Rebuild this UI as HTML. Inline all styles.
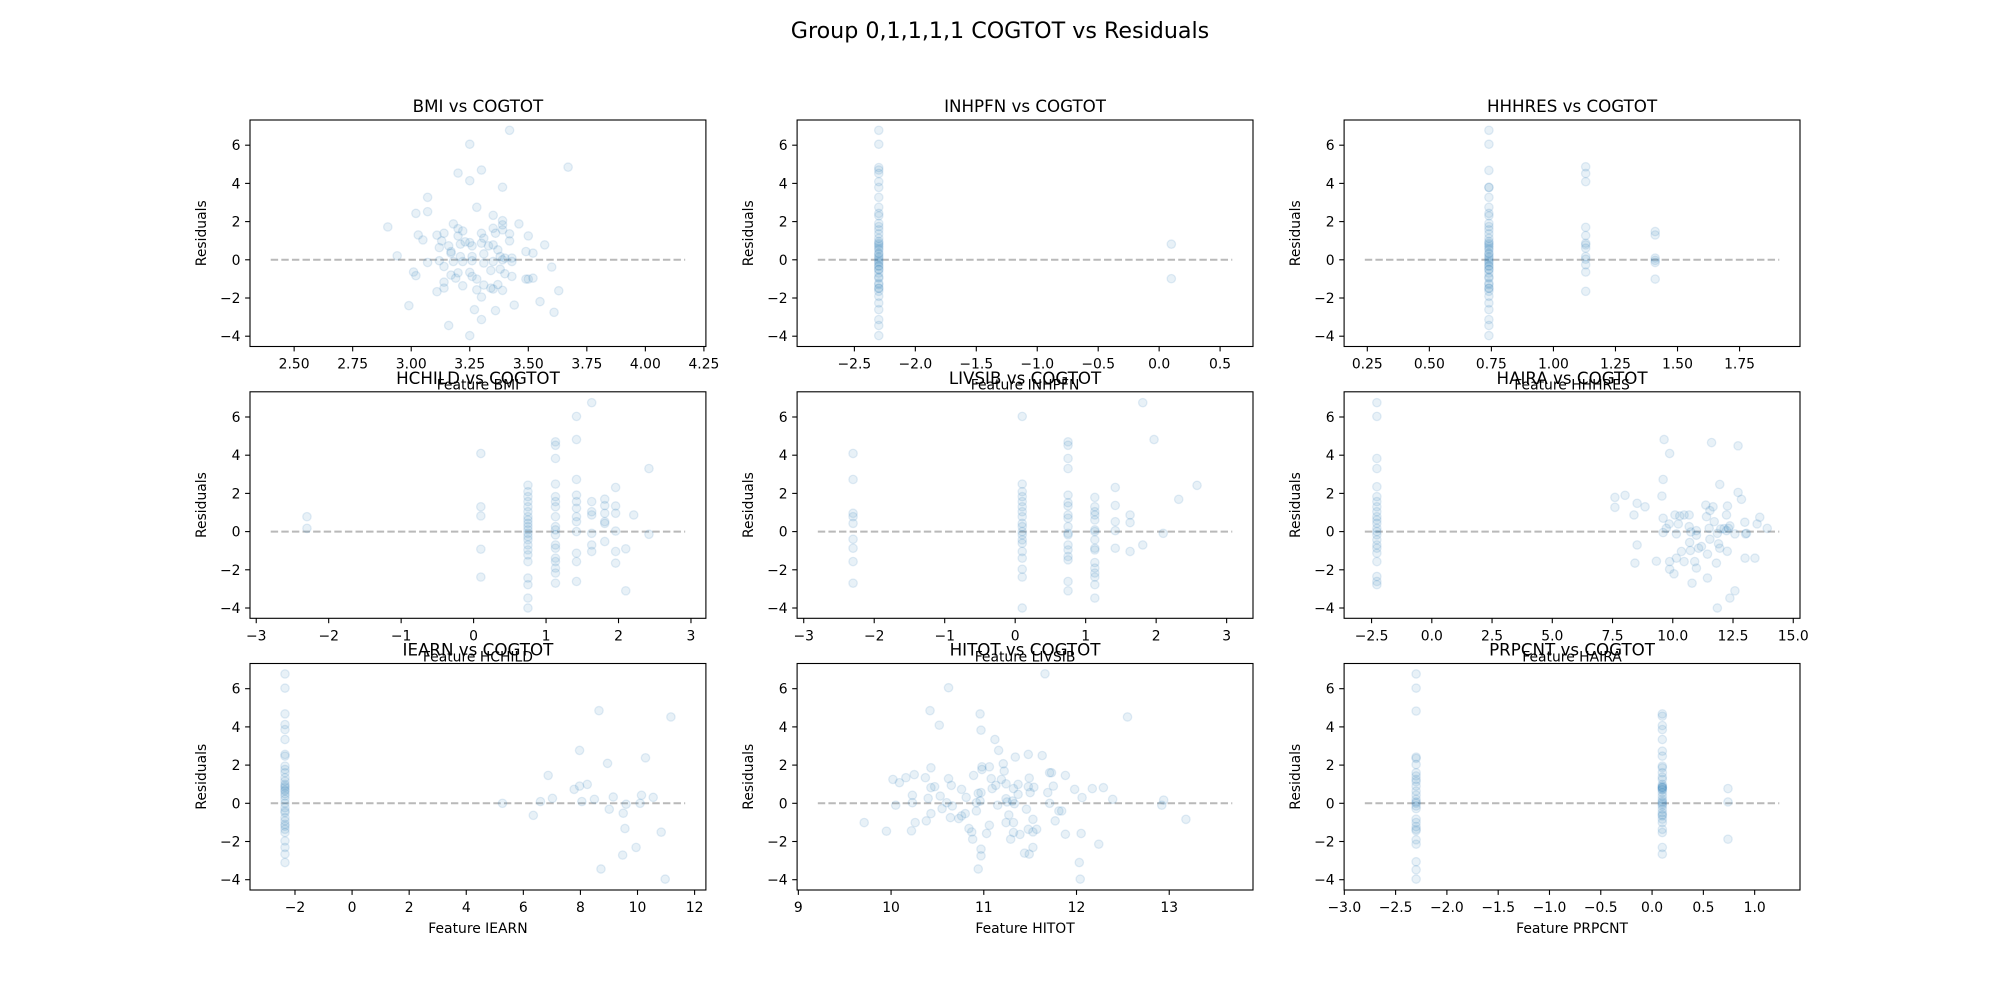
<!DOCTYPE html>
<html><head><meta charset="utf-8"><style>
html,body{margin:0;padding:0;background:#fff;}
svg{display:block;font-family:"DejaVu Sans","Liberation Sans",sans-serif;}
</style></head><body>
<svg id="fig" width="2000" height="1000" viewBox="0 0 2000 1000" xmlns="http://www.w3.org/2000/svg">
<rect width="2000" height="1000" fill="#fff"/>
<text x="1000" y="38" text-anchor="middle" font-size="22.2">Group 0,1,1,1,1 COGTOT vs Residuals</text>
</svg>
<script>
// ---- data ----
const features = ["BMI","INHPFN","HHHRES","HCHILD","LIVSIB","HAIRA","IEARN","HITOT","PRPCNT"];
const yTicks = [-4,-2,0,2,4,6];
const xTickValues = [
 [2.5,2.75,3,3.25,3.5,3.75,4,4.25],
 [-2.5,-2,-1.5,-1,-0.5,0,0.5],
 [0.25,0.5,0.75,1,1.25,1.5,1.75],
 [-3,-2,-1,0,1,2,3],
 [-3,-2,-1,0,1,2,3],
 [-2.5,0,2.5,5,7.5,10,12.5,15],
 [-2,0,2,4,6,8,10,12],
 [9,10,11,12,13],
 [-3,-2.5,-2,-1.5,-1,-0.5,0,0.5,1]
];
const xTickLabels = [
 ["2.50","2.75","3.00","3.25","3.50","3.75","4.00","4.25"],
 ["−2.5","−2.0","−1.5","−1.0","−0.5","0.0","0.5"],
 ["0.25","0.50","0.75","1.00","1.25","1.50","1.75"],
 ["−3","−2","−1","0","1","2","3"],
 ["−3","−2","−1","0","1","2","3"],
 ["−2.5","0.0","2.5","5.0","7.5","10.0","12.5","15.0"],
 ["−2","0","2","4","6","8","10","12"],
 ["9","10","11","12","13"],
 ["−3.0","−2.5","−2.0","−1.5","−1.0","−0.5","0.0","0.5","1.0"]
];
const yTickLabels = ["−4","−2","0","2","4","6"];

const p1x = [3.42,3.25,3.20,3.30,3.67,3.25,3.39,3.07,3.02,3.07,3.28,3.35,2.90,2.94,3.03,3.11,3.14,3.13,3.18,3.20,3.22,3.20,3.16,3.17,3.21,3.23,3.25,3.26,3.30,3.30,3.31,3.33,3.35,3.35,3.36,3.37,3.39,3.39,3.39,3.42,3.42,3.46,3.50,3.49,3.52,3.57,3.12,3.17,3.21,3.26,3.31,3.38,3.40,3.43,3.07,3.12,3.14,3.18,3.22,3.26,3.31,3.35,3.39,3.43,3.60,3.01,3.02,3.17,3.20,3.19,3.22,3.25,3.26,3.28,3.31,3.34,3.38,3.40,3.43,3.49,3.50,3.52,3.11,3.14,3.14,3.28,3.30,3.34,3.35,3.37,3.39,3.63,2.99,3.16,3.27,3.30,3.36,3.44,3.55,3.61,3.25,3.05];
const p1y = [6.78,6.05,4.54,4.70,4.85,4.14,3.80,3.27,2.43,2.52,2.75,2.33,1.72,0.21,1.30,1.29,1.39,0.99,1.88,1.63,1.51,1.25,0.73,0.43,0.82,0.94,0.90,0.73,0.87,1.39,1.13,0.73,0.78,1.65,1.39,0.52,2.05,1.83,1.57,1.36,0.99,1.88,1.25,0.43,0.35,0.78,0.64,0.35,0.17,0.17,0.31,0.17,0.09,0.09,-0.14,-0.05,-0.35,-0.09,-0.09,-0.05,-0.17,-0.09,0.00,-0.09,-0.38,-0.64,-0.83,-0.80,-0.68,-0.96,-1.36,-0.66,-0.87,-1.01,-1.32,-0.56,-0.49,-0.73,-0.87,-1.01,-1.01,-0.96,-1.67,-1.48,-1.17,-1.57,-1.95,-1.48,-1.53,-1.30,-1.60,-1.62,-2.40,-3.44,-2.61,-3.13,-2.66,-2.37,-2.19,-2.75,-3.97,1.04];

const p2x = [-2.3,-2.3,-2.3,-2.3,-2.3,-2.3,-2.3,-2.3,-2.3,-2.3,-2.3,-2.3,-2.3,-2.3,-2.3,-2.3,-2.3,-2.3,-2.3,-2.3,-2.3,-2.3,-2.3,-2.3,-2.3,-2.3,-2.3,-2.3,-2.3,-2.3,-2.3,-2.3,-2.3,-2.3,-2.3,-2.3,-2.3,-2.3,-2.3,-2.3,-2.3,-2.3,-2.3,-2.3,-2.3,-2.3,-2.3,0.1,0.1];
const p2y = [6.78,6.05,4.83,4.70,4.52,4.09,3.79,3.27,2.75,2.43,2.30,1.91,1.74,1.57,1.36,1.13,0.96,0.87,0.70,0.52,0.35,0.17,0,-0.17,-0.35,-0.52,-0.70,-0.96,-1.22,-1.48,-1.65,-1.91,-2.26,-2.61,-3.13,-3.44,-3.97,0.8,0.6,0.3,0.1,-0.1,-0.3,-0.5,-0.9,-1.3,-1.5,0.82,-0.99];

const p3x = [0.74,0.74,0.74,0.74,0.74,0.74,0.74,0.74,0.74,0.74,0.74,0.74,0.74,0.74,0.74,0.74,0.74,0.74,0.74,0.74,0.74,0.74,0.74,0.74,0.74,0.74,0.74,0.74,0.74,0.74,0.74,0.74,0.74,0.74,0.74,0.74,0.74,0.74,0.74,0.74,0.74,0.74,0.74,0.74,0.74,1.13,1.13,1.13,1.13,1.13,1.13,1.13,1.13,1.13,1.13,1.13,1.13,1.13,1.41,1.41,1.41,1.41,1.41,1.41];
const p3y = [6.78,6.05,4.68,3.79,3.79,3.27,2.75,2.43,2.30,1.91,1.74,1.57,1.36,1.13,0.96,0.87,0.70,0.52,0.35,0.17,0,-0.17,-0.35,-0.52,-0.70,-0.96,-1.22,-1.48,-1.65,-1.91,-2.26,-2.61,-3.13,-3.44,-3.97,0.8,0.6,0.3,0.1,-0.1,-0.3,-0.5,-0.9,-1.3,-1.5,4.87,4.52,4.09,1.70,1.27,0.87,0.78,0.61,0.17,0.03,-0.26,-0.64,-1.65,1.48,1.30,0.09,-0.03,-0.14,-1.01];

const p4x = [-2.3,-2.3,0.1,0.1,0.1,0.1,0.1,0.75,0.75,0.75,0.75,0.75,0.75,0.75,0.75,0.75,0.75,0.75,0.75,0.75,0.75,0.75,0.75,0.75,0.75,0.75,0.75,0.75,0.75,1.13,1.13,1.13,1.13,1.13,1.13,1.13,1.13,1.13,1.13,1.13,1.13,1.13,1.13,1.13,1.13,1.13,1.13,1.42,1.42,1.42,1.42,1.42,1.42,1.42,1.42,1.42,1.42,1.42,1.42,1.63,1.63,1.63,1.63,1.63,1.63,1.63,1.81,1.81,1.81,1.81,1.81,1.81,1.96,1.96,1.96,1.96,1.96,1.96,2.10,2.10,2.21,2.42,2.42];
const p4y = [0.78,0.17,4.09,1.30,0.82,-0.92,-2.38,2.43,2.09,1.83,1.57,1.30,1.04,0.78,0.61,0.43,0.26,0.09,-0.09,-0.26,-0.43,-0.70,-0.96,-1.22,-1.57,-2.43,-2.78,-3.48,-4.0,4.70,4.52,3.83,2.49,1.83,1.57,1.30,0.78,0.26,0.09,-0.17,-0.70,-0.87,-1.39,-1.57,-1.91,-2.17,-2.70,6.03,4.82,2.73,1.91,1.57,1.22,0.78,0.52,0,-1.13,-1.57,-2.61,6.75,1.57,1.04,0.87,-0.09,-0.70,-1.04,1.70,1.36,0.96,0.52,0.43,-0.52,2.31,1.34,0.96,0.03,-1.04,-1.65,-0.90,-3.10,0.87,3.30,-0.14];

const p5x = [-2.3,-2.3,-2.3,-2.3,-2.3,-2.3,-2.3,-2.3,-2.3,0.1,0.1,0.1,0.1,0.1,0.1,0.1,0.1,0.1,0.1,0.1,0.1,0.1,0.1,0.1,0.1,0.1,0.1,0.1,0.75,0.75,0.75,0.75,0.75,0.75,0.75,0.75,0.75,0.75,0.75,0.75,0.75,0.75,0.75,0.75,0.75,0.75,1.13,1.13,1.13,1.13,1.13,1.13,1.13,1.13,1.13,1.13,1.13,1.13,1.13,1.13,1.13,1.13,1.42,1.42,1.42,1.42,1.42,1.63,1.63,1.63,1.81,1.81,1.97,2.10,2.32,2.58];
const p5y = [4.09,2.73,0.96,0.78,0.43,-0.40,-0.87,-1.57,-2.70,6.03,2.49,2.09,1.83,1.57,1.30,1.04,0.78,0.43,0.26,0,-0.17,-0.43,-0.61,-1.04,-1.39,-1.97,-2.38,-4.0,4.70,4.52,3.83,3.30,1.91,1.51,1.34,0.87,0.70,0.26,-0.09,-0.17,-0.70,-0.96,-1.30,-1.48,-2.61,-3.10,1.79,1.30,1.04,0.87,0.61,0.09,0,-0.43,-0.87,-0.96,-1.62,-1.91,-2.17,-2.38,-2.78,-3.48,2.31,1.37,0.52,0.05,-0.87,0.87,0.47,-1.04,6.75,-0.70,4.82,-0.09,1.69,2.42];

const p6x = [-2.28,-2.28,-2.28,-2.28,-2.28,-2.28,-2.28,-2.28,-2.28,-2.28,-2.28,-2.28,-2.28,-2.28,-2.28,-2.28,-2.28,-2.28,-2.28,-2.28,-2.28,-2.28,-2.28,7.60,7.60,8.02,8.52,8.85,8.39,8.52,8.43,9.32,9.55,9.60,9.64,9.87,9.60,9.60,9.73,9.85,9.87,9.87,10.05,10.09,10.15,10.15,10.23,10.29,10.36,10.47,10.47,10.68,10.68,10.70,10.75,10.80,10.73,10.91,10.98,10.98,10.98,11.07,11.19,11.37,11.40,11.44,11.44,11.51,11.54,11.54,11.61,11.67,11.72,11.81,11.85,11.90,11.95,11.95,11.99,12.13,12.23,12.23,12.26,12.27,12.31,12.37,12.71,12.71,12.58,12.58,12.37,12.85,12.99,13.00,13.02,13.06,13.41,13.50,13.61,13.92,11.85];
const p6y = [6.75,6.03,3.83,3.30,2.35,1.83,1.57,1.30,1.04,0.78,0.61,0.43,0.17,0,-0.17,-0.43,-0.70,-0.87,-1.13,-1.57,-2.35,-2.61,-2.78,1.79,1.27,1.90,1.48,1.30,0.87,-0.70,-1.65,-1.55,1.86,2.73,4.82,4.09,0.70,-0.05,0.17,0.40,-1.57,-1.97,-2.21,0.87,-0.12,-1.39,0.40,0.82,-1.04,0.87,-1.57,0.87,0.26,-0.57,-0.02,-2.70,-0.99,-1.57,0.05,-0.19,-1.91,-0.87,-0.78,1.39,0.78,-1.18,-2.43,0.17,1.10,-0.40,4.66,1.30,0.52,-1.65,-0.09,-0.64,2.47,-0.87,0.14,0.16,0.05,0.87,-1.03,1.34,0.17,0.30,4.49,2.05,-0.12,-3.10,-3.48,1.69,0.49,-1.39,-0.12,-0.09,-1.39,0.40,0.75,0.17,-4.0];

const p7x = [-2.35,-2.35,-2.35,-2.35,-2.35,-2.35,-2.35,-2.35,-2.35,-2.35,-2.35,-2.35,-2.35,-2.35,-2.35,-2.35,-2.35,-2.35,-2.35,-2.35,-2.35,-2.35,-2.35,-2.35,-2.35,-2.35,-2.35,-2.35,-2.35,-2.35,-2.35,-2.35,-2.35,-2.35,-2.35,5.27,6.35,6.60,6.87,7.02,7.78,7.97,7.97,8.05,8.24,8.49,8.65,8.72,8.95,9.01,9.15,9.48,9.50,9.56,9.60,9.95,10.09,10.14,10.28,10.55,10.83,10.97,11.17];
const p7y = [6.77,6.03,4.68,4.12,3.86,3.34,2.56,2.47,1.95,1.77,1.60,1.34,1.16,0.99,0.82,0.64,0.38,0.21,0,-0.23,-0.49,-0.75,-0.92,-1.10,-1.36,-1.53,-1.97,-2.31,-2.66,-3.10,0.9,0.7,0.5,-0.4,-1.2,0,-0.63,0.09,1.46,0.26,0.73,0.90,2.77,0.09,0.99,0.21,4.85,-3.44,2.09,-0.31,0.33,-2.71,-0.52,-1.32,-0.05,-2.31,0,0.42,2.38,0.31,-1.51,-3.97,4.52];

const p8x = [9.71,9.95,10.02,10.09,10.05,10.16,10.22,10.23,10.23,10.25,10.26,10.37,10.38,10.40,10.43,10.43,10.43,10.47,10.42,10.52,10.53,10.55,10.60,10.62,10.62,10.64,10.65,10.66,10.73,10.76,10.76,10.80,10.81,10.84,10.87,10.88,10.89,10.92,10.92,10.94,10.96,10.96,10.97,10.97,10.98,10.98,10.97,10.97,10.94,11.03,11.06,11.06,11.08,11.09,11.12,11.13,11.15,11.16,11.19,11.21,11.22,11.24,11.24,11.24,11.25,11.27,11.29,11.31,11.32,11.32,11.32,11.33,11.34,11.37,11.37,11.39,11.44,11.46,11.48,11.48,11.49,11.50,11.48,11.49,11.53,11.53,11.53,11.54,11.57,11.63,11.66,11.69,11.71,11.71,11.73,11.75,11.77,11.81,11.84,11.88,11.88,11.98,12.03,12.05,12.06,12.04,12.17,12.24,12.29,12.39,12.55,12.92,12.94,13.18];
const p8y = [-1.01,-1.46,1.25,1.08,-0.10,1.34,-1.44,0.42,0.03,1.50,-1.01,1.34,-0.92,0.26,1.86,0.82,-0.54,0.87,4.85,4.09,0.38,-0.28,0.03,1.29,6.05,-0.75,0.94,-0.14,-0.80,0.73,-0.66,-0.54,0.31,-1.32,-1.50,-1.88,1.46,-0.40,0.03,0.52,4.68,0.12,0.56,3.83,1.77,1.91,-2.40,-2.75,-3.44,-1.58,-1.15,1.91,1.29,0.77,3.34,0.94,-0.10,2.77,1.25,2.07,1.69,0.24,1.02,-1.01,0.07,-0.61,-1.88,0.12,-1.01,-1.53,0.77,-0.02,2.42,0.47,0.99,-1.63,-2.61,-0.31,2.56,0.87,1.32,0.56,-1.36,-2.66,-0.84,-1.50,-2.31,0.84,-1.36,2.50,6.78,0.56,1.60,0,1.60,0.90,-0.92,-0.40,-0.40,-1.62,1.46,0.73,-3.10,-1.58,0.30,-3.97,0.77,-2.14,0.82,0.21,4.52,-0.10,0.17,-0.84];

const p9x = [-2.3,-2.3,-2.3,-2.3,-2.3,-2.3,-2.3,-2.3,-2.3,-2.3,-2.3,-2.3,-2.3,-2.3,-2.3,-2.3,-2.3,-2.3,-2.3,-2.3,-2.3,-2.3,-2.3,-2.3,-2.3,-2.3,-2.3,-2.3,0.1,0.1,0.1,0.1,0.1,0.1,0.1,0.1,0.1,0.1,0.1,0.1,0.1,0.1,0.1,0.1,0.1,0.1,0.1,0.1,0.1,0.1,0.1,0.1,0.1,0.1,0.1,0.1,0.1,0.1,0.1,0.1,0.1,0.1,0.1,0.1,0.74,0.74,0.74];
const p9y = [6.77,6.03,4.83,2.42,2.35,2.03,1.60,1.43,1.25,1.13,0.90,0.64,0.43,0.21,0.07,0,-0.14,-0.28,-0.83,-1.01,-1.22,-1.36,-1.44,-1.91,-2.14,-3.06,-3.48,-3.97,4.68,4.56,4.07,3.86,3.34,2.73,2.47,1.95,1.86,1.60,1.37,1.25,0.99,0.90,0.82,0.73,0.56,0.38,0.21,0.03,-0.14,-0.31,-0.49,-0.66,-0.83,-1.01,-1.36,-1.53,-2.31,-2.66,0.85,0.8,0.7,0.1,-0.05,-0.6,0.77,0.07,-1.88];

const xs = [p1x,p2x,p3x,p4x,p5x,p6x,p7x,p8x,p9x];
const ys = [p1y,p2y,p3y,p4y,p5y,p6y,p7y,p8y,p9y];

// ---- layout ----
const NS = "http://www.w3.org/2000/svg";
const svg = document.getElementById('fig');
const AW = 455.9, AH = 226.5;
const lefts = [250, 797.1, 1344.1];
const tops = [120, 391.8, 663.5];
function mk(tag, attrs, parent) {
  const e = document.createElementNS(NS, tag);
  for (const k in attrs) e.setAttribute(k, attrs[k]);
  (parent || svg).appendChild(e);
  return e;
}
let allY = [0];
ys.forEach(a => allY = allY.concat(a));
const yMinD = Math.min(...allY), yMaxD = Math.max(...allY);
const yPad = (yMaxD - yMinD) * 0.05;
const yLo = yMinD - yPad, yHi = yMaxD + yPad;

for (let i = 0; i < 9; i++) {
  const L = lefts[i % 3], T = tops[Math.floor(i / 3)];
  const xd = xs[i], yd = ys[i];
  const hx0 = Math.min(...xd) - 0.5, hx1 = Math.max(...xd) + 0.5;
  const m = (hx1 - hx0) * 0.05;
  const xLo = hx0 - m, xHi = hx1 + m;
  const sx = v => L + (v - xLo) / (xHi - xLo) * AW;
  const sy = v => T + AH - (v - yLo) / (yHi - yLo) * AH;
  const g = mk('g', {});
  
  
  const hl = mk('line', {x1: sx(hx0), x2: sx(hx1), y1: sy(0), y2: sy(0), stroke: '#808080', 'stroke-opacity': 0.55, 'stroke-width': 2, 'stroke-dasharray': '7.4,3.2'}, g);
  
  
  const pg = mk('g', {fill: '#1f77b4', stroke: '#1f77b4', 'stroke-width': 1.3}, g);
  
  
  for (let j = 0; j < xd.length; j++) {
    const c = mk('circle', {cx: sx(xd[j]), cy: sy(yd[j]), r: 4.2, 'fill-opacity': 0.1, 'stroke-opacity': 0.12}, pg);
    
    
  }
  const fr = mk('rect', {x: L, y: T, width: AW, height: AH, fill: 'none', stroke: '#000', 'stroke-width': 1.1}, g);
  
  
  xTickValues[i].forEach((v, k) => {
    const x = sx(v);
    const t = mk('line', {x1: x, x2: x, y1: T + AH, y2: T + AH + 4.9, stroke: '#000', 'stroke-width': 1.1}, g);
    
    
    const tx = mk('text', {x: x, y: T + AH + 22, 'text-anchor': 'middle', 'font-size': 13.9}, g);
    tx.textContent = xTickLabels[i][k];
    
    
  });
  yTicks.forEach((v, k) => {
    const y = sy(v);
    const t = mk('line', {x1: L - 4.9, x2: L, y1: y, y2: y, stroke: '#000', 'stroke-width': 1.1}, g);
    
    
    const tx = mk('text', {x: L - 9.5, y: y + 5, 'text-anchor': 'end', 'font-size': 13.9}, g);
    tx.textContent = yTickLabels[k];
    
    
  });
  const ti = mk('text', {x: L + AW / 2, y: T - 8, 'text-anchor': 'middle', 'font-size': 16.7}, g);
  ti.textContent = features[i] + ' vs COGTOT';
  
  
  const xl = mk('text', {x: L + AW / 2, y: T + AH + 43, 'text-anchor': 'middle', 'font-size': 13.9}, g);
  xl.textContent = 'Feature ' + features[i];
  
  
  const cy = T + AH / 2, cx = L - 44;
  const yl = mk('text', {x: cx, y: cy, 'text-anchor': 'middle', 'font-size': 13.9, transform: 'rotate(-90 ' + cx + ' ' + cy + ')'}, g);
  yl.textContent = 'Residuals';
  
  
}
</script>
</body></html>
